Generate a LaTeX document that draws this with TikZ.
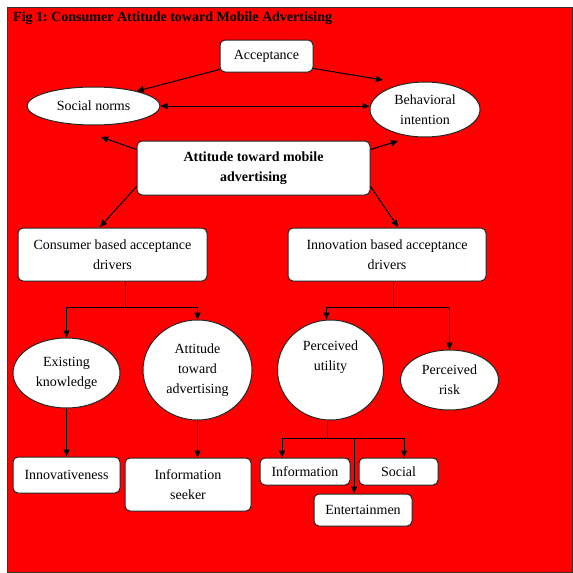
\documentclass[tikz,border=0pt]{standalone}
\usepackage{fontspec}
\setmainfont{Liberation Serif}
\usetikzlibrary{shapes.geometric,arrows.meta}
\frenchspacing
\begin{document}
\begin{tikzpicture}[x=1pt,y=-1pt,
  every node/.style={font=\fontsize{14}{20}\selectfont, align=center, inner sep=0pt, text=black},
  rbox/.style={draw=black!85, fill=white, rounded corners=5pt, line width=1pt},
  ell/.style={ellipse, draw=black!85, fill=white, line width=1pt},
  arr/.style={-{Triangle[length=7pt,width=6pt]}, line width=1pt},
  darr/.style={{Triangle[length=7pt,width=6pt]}-{Triangle[length=7pt,width=6pt]}, line width=1pt},
  ln/.style={line width=1pt},
  bf/.style={font=\bfseries\fontsize{14}{20}\selectfont}]
\useasboundingbox (0,0) rectangle (573,573);
\fill[white] (0,0) rectangle (573,573);
\draw[fill=red, draw=black!80, line width=1pt] (7,7) rectangle (572,572);

\node[anchor=base west, bf] (title) at (13,21.5) {Fig 1: Consumer Attitude toward Mobile Advertising};

\node[rbox, minimum width=93pt, minimum height=32pt] (acc) at (266.5,56) {Acceptance};
\node[ell, minimum width=133pt, minimum height=38pt] (soc) at (93.5,106) {Social norms};
\node[ell, minimum width=110pt, minimum height=55pt] (beh) at (425,109.5) {Behavioral\\intention};
\node[rbox, bf, minimum width=233pt, minimum height=54pt] (att) at (253.5,168) {Attitude toward mobile\\advertising};
\node[rbox, minimum width=189pt, minimum height=53pt] (cons) at (112.5,254.5) {Consumer based acceptance\\drivers};
\node[rbox, minimum width=198pt, minimum height=53pt] (inno) at (387,254.5) {Innovation based acceptance\\drivers};
\node[ell, minimum width=107pt, minimum height=70pt] (exist) at (66.5,373) {Existing\\knowledge};
\node[ell, minimum width=109pt, minimum height=100pt] (atad) at (197.5,370) {Attitude\\toward\\advertising};
\node[ell, minimum width=106pt, minimum height=100pt] (pu) at (330.5,370) {};
\node (putxt) at (330.5,357) {Perceived\\utility};
\node[ell, minimum width=98pt, minimum height=60pt] (pr) at (449.5,380) {Perceived\\risk};
\node[rbox, minimum width=107pt, minimum height=36pt] (innov) at (66.5,475) {Innovativeness};
\node[rbox, minimum width=126pt, minimum height=53pt] (infs) at (188,484.5) {Information\\seeker};
\node[rbox, minimum width=90pt, minimum height=27pt] (info) at (305,471.5) {Information};
\node[rbox, minimum width=79pt, minimum height=27pt] (socb) at (398.5,471.5) {Social};
\node[rbox, minimum width=98pt, minimum height=32pt] (ent) at (363,510) {Entertainmen};

% top arrows
\coordinate (t2) at (383,80);
\coordinate (t3) at (101,137);
\coordinate (t4) at (398,141);
\coordinate (t5) at (100,227);
\coordinate (t6) at (398,227);
\draw[arr] ([yshift=3pt]acc.south west) -- (soc.19);
\draw[arr] ([yshift=4pt]acc.south east) -- (t2);
\draw[darr] (soc.east) -- (soc.east -| beh.west);
\draw[arr] ([yshift=-9pt]att.north west) -- (t3);
\draw[arr] ([yshift=-9pt]att.north east) -- (t4);
\draw[arr] ([yshift=9pt]att.south west) -- (t5);
\draw[arr] ([yshift=9pt]att.south east) -- (t6);

% consumer branch
\coordinate (c1) at (125,307);
\draw[ln] (c1 |- cons.south) -- (c1);
\draw[arr] (c1) -| (exist.north);
\draw[arr] (c1) -| (atad.north);

% innovation branch
\coordinate (c2) at (393,307);
\draw[ln] (c2 |- inno.south) -- (c2);
\draw[arr] (c2) -| ([xshift=-4pt]pu.north);
\draw[arr] (c2) -| (pr.north);

\draw[arr] (exist.south) -- (innov.north);
\draw[arr] (atad.south) -- (atad.south |- infs.north);

% perceived utility branch
\coordinate (p1) at (327,438);
\coordinate (pl) at (282,438);
\coordinate (pr2) at (404,438);
\coordinate (pm) at (354,438);
\draw[ln] (p1 |- pu.south) -- (p1);
\draw[ln] (pl) -- (pr2);
\draw[arr] (pl) -- (pl |- info.north);
\draw[arr] (pr2) -- (pr2 |- socb.north);
\draw[arr] (pm) -- (pm |- ent.north);
\end{tikzpicture}
\end{document}
